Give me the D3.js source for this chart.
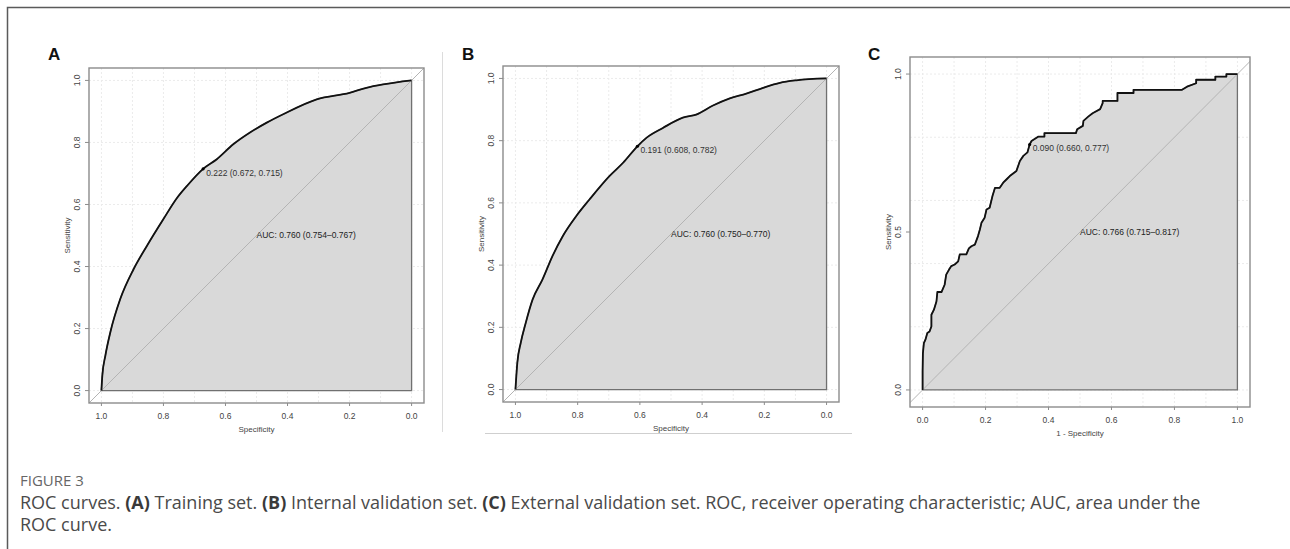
<!DOCTYPE html>
<html>
<head>
<meta charset="utf-8">
<script src="https://cdn.jsdelivr.net/npm/d3@7/dist/d3.min.js"></script>
<style>
  body { margin: 0; background: #fff; }
  svg { display: block; }
</style>
</head>
<body>
<div id="chart"></div>
<script>
// panel A - training set (specificity, sensitivity)
var specA = [1.0, 0.997, 0.987, 0.971, 0.939, 0.896, 0.853, 0.8, 0.757, 0.724, 0.672, 0.628, 0.575, 0.521, 0.467, 0.414, 0.306, 0.2, 0.146, 0.092, 0.0];
var sensA = [0.0, 0.049, 0.114, 0.189, 0.296, 0.392, 0.467, 0.553, 0.62, 0.66, 0.715, 0.746, 0.794, 0.832, 0.864, 0.891, 0.939, 0.96, 0.976, 0.987, 1.0];

// panel B - internal validation set
var specB = [1.0, 0.994, 0.983, 0.967, 0.945, 0.913, 0.881, 0.848, 0.805, 0.762, 0.698, 0.654, 0.608, 0.579, 0.526, 0.462, 0.419, 0.365, 0.311, 0.258, 0.204, 0.15, 0.097, 0.0];
var sensB = [0.0, 0.086, 0.15, 0.214, 0.289, 0.354, 0.429, 0.493, 0.557, 0.611, 0.686, 0.729, 0.782, 0.809, 0.841, 0.874, 0.884, 0.913, 0.936, 0.951, 0.97, 0.986, 0.994, 1.0];

// panel C - external validation set (1 - specificity, sensitivity), step curve
var fprC = [0, 0, 0.001, 0.004, 0.009, 0.015, 0.022, 0.028, 0.028, 0.036, 0.044, 0.047, 0.060, 0.070, 0.075, 0.084, 0.091, 0.102, 0.113, 0.118, 0.139, 0.147, 0.155, 0.166, 0.176, 0.182, 0.187, 0.197, 0.203, 0.213, 0.222, 0.230, 0.245, 0.256, 0.267, 0.277, 0.298, 0.309, 0.320, 0.333, 0.340, 0.346, 0.368, 0.387, 0.387, 0.487, 0.491, 0.509, 0.511, 0.527, 0.540, 0.564, 0.572, 0.572, 0.619, 0.619, 0.670, 0.670, 0.824, 0.840, 0.869, 0.869, 0.930, 0.930, 0.965, 0.965, 1.0];
var tprC = [0, 0.06, 0.116, 0.148, 0.159, 0.18, 0.185, 0.201, 0.238, 0.254, 0.28, 0.31, 0.31, 0.333, 0.365, 0.381, 0.392, 0.397, 0.407, 0.429, 0.429, 0.448, 0.455, 0.46, 0.487, 0.508, 0.529, 0.545, 0.571, 0.577, 0.614, 0.640, 0.640, 0.656, 0.667, 0.677, 0.693, 0.725, 0.741, 0.752, 0.777, 0.788, 0.802, 0.802, 0.813, 0.813, 0.825, 0.836, 0.852, 0.866, 0.876, 0.889, 0.908, 0.915, 0.915, 0.940, 0.940, 0.950, 0.950, 0.960, 0.971, 0.982, 0.982, 0.992, 0.992, 1.0, 1.0];

var panelLetters = ["A", "B", "C"];
var xTitles = ["Specificity", "Specificity", "1 - Specificity"];
var thresholdText = ["0.222 (0.672, 0.715)", "0.191 (0.608, 0.782)", "0.090 (0.660, 0.777)"];
var thresholdX = [0.672, 0.608, 0.340];
var thresholdY = [0.715, 0.782, 0.777];
var aucText = ["AUC: 0.760 (0.754\u20130.767)", "AUC: 0.760 (0.750\u20130.770)", "AUC: 0.766 (0.715\u20130.817)"];
var yTicksAB = [0, 0.2, 0.4, 0.6, 0.8, 1.0];
var yTicksC = [0, 0.5, 1.0];
var xTicks = [0, 0.2, 0.4, 0.6, 0.8, 1.0];

var width = 1290, height = 549;
var font = "'Liberation Sans', Arial, sans-serif";

var svg = d3.select('#chart').append('svg')
    .attr('width', width)
    .attr('height', height);

svg.append('rect').attr('width', width).attr('height', height).attr('fill', '#fff');

// outer frame (top + left)
svg.append('path')
    .attr('d', 'M7.5,' + height + 'V7.5H' + width)
    .attr('fill', 'none')
    .attr('stroke', '#5a5a5a')
    .attr('stroke-width', 1.5);

// faint border of panel B image
svg.append('line').attr('x1', 442.5).attr('x2', 442.5).attr('y1', 52).attr('y2', 432)
    .attr('stroke', '#dcdcdc').attr('stroke-width', 1);
svg.append('line').attr('x1', 485).attr('x2', 852).attr('y1', 433.5).attr('y2', 433.5)
    .attr('stroke', '#cfcfcf').attr('stroke-width', 1);

var panels = [
    { box: { x0: 89, x1: 424, y0: 68, y1: 403 }, xDom: [1.04, -0.04], yDom: [-0.04, 1.04],
      xs: specA, ys: sensA, yTicks: yTicksAB, step: false, letterX: 48 },
    { box: { x0: 503, x1: 839, y0: 66, y1: 402 }, xDom: [1.04, -0.04], yDom: [-0.04, 1.04],
      xs: specB, ys: sensB, yTicks: yTicksAB, step: false, letterX: 462 },
    { box: { x0: 910, x1: 1250, y0: 57, y1: 407 }, xDom: [-0.04, 1.04], yDom: [-0.054, 1.054],
      xs: fprC, ys: tprC, yTicks: yTicksC, step: true, letterX: 868 }
];

panels.forEach(function (p, i) {
    var b = p.box;
    var x = d3.scaleLinear().domain(p.xDom).range([b.x0, b.x1]);
    var y = d3.scaleLinear().domain(p.yDom).range([b.y1, b.y0]);
    var g = svg.append('g');

    g.append('clipPath').attr('id', 'clip' + i)
        .append('rect').attr('x', b.x0).attr('y', b.y0)
        .attr('width', b.x1 - b.x0).attr('height', b.y1 - b.y0);

    // grid
    var grid = g.append('g').attr('clip-path', 'url(#clip' + i + ')');
    d3.range(0, 11).forEach(function (k) {
        grid.append('line')
            .attr('x1', x(k / 10)).attr('x2', x(k / 10))
            .attr('y1', b.y0).attr('y2', b.y1)
            .attr('stroke', '#ebebeb').attr('stroke-dasharray', '2,2');
    });
    d3.range(0, 6).forEach(function (k) {
        grid.append('line')
            .attr('x1', b.x0).attr('x2', b.x1)
            .attr('y1', y(k / 5)).attr('y2', y(k / 5))
            .attr('stroke', '#ebebeb').attr('stroke-dasharray', '2,2');
    });

    var pts = p.xs.map(function (v, j) { return [v, p.ys[j]]; });

    // AUC polygon
    var area = d3.area()
        .x(function (d) { return x(d[0]); })
        .y0(y(0))
        .y1(function (d) { return y(d[1]); })
        .curve(p.step ? d3.curveLinear : d3.curveMonotoneX);
    g.append('path')
        .datum(pts)
        .attr('d', area)
        .attr('fill', '#d9d9d9')
        .attr('stroke', '#707070')
        .attr('stroke-width', 1.3);

    // chance diagonal, clipped to the box
    var diag = p.step ? [[-0.1, -0.1], [1.1, 1.1]] : [[1.1, -0.1], [-0.1, 1.1]];
    g.append('line')
        .attr('clip-path', 'url(#clip' + i + ')')
        .attr('x1', x(diag[0][0])).attr('y1', y(diag[0][1]))
        .attr('x2', x(diag[1][0])).attr('y2', y(diag[1][1]))
        .attr('stroke', '#b4b4b4').attr('stroke-width', 1);

    // ROC curve
    var line = d3.line()
        .x(function (d) { return x(d[0]); })
        .y(function (d) { return y(d[1]); })
        .curve(p.step ? d3.curveLinear : d3.curveMonotoneX);
    g.append('path')
        .datum(pts)
        .attr('d', line)
        .attr('fill', 'none')
        .attr('stroke', '#111')
        .attr('stroke-width', 1.8)
        .attr('stroke-linejoin', 'round');

    // plot box
    g.append('rect')
        .attr('x', b.x0).attr('y', b.y0)
        .attr('width', b.x1 - b.x0).attr('height', b.y1 - b.y0)
        .attr('fill', 'none').attr('stroke', '#8c8c8c').attr('stroke-width', 1.4);

    // y axis
    p.yTicks.forEach(function (v) {
        g.append('line').attr('x1', b.x0 - 4).attr('x2', b.x0)
            .attr('y1', y(v)).attr('y2', y(v)).attr('stroke', '#8c8c8c');
        g.append('text')
            .attr('transform', 'translate(' + (b.x0 - 12) + ',' + y(v) + ') rotate(-90)')
            .attr('text-anchor', 'middle').attr('dy', '0.35em')
            .attr('font-family', font).attr('font-size', 8.5).attr('fill', '#444')
            .text(d3.format('.1f')(v));
    });
    g.append('text')
        .attr('transform', 'translate(' + (b.x0 - 22) + ',' + ((b.y0 + b.y1) / 2) + ') rotate(-90)')
        .attr('text-anchor', 'middle').attr('dy', '0.35em')
        .attr('font-family', font).attr('font-size', 8).attr('fill', '#444')
        .text('Sensitivity');

    // x axis
    xTicks.forEach(function (v) {
        g.append('line').attr('x1', x(v)).attr('x2', x(v))
            .attr('y1', b.y1).attr('y2', b.y1 + 3).attr('stroke', '#8c8c8c');
        g.append('text')
            .attr('x', x(v)).attr('y', b.y1 + 13).attr('dy', '0.35em')
            .attr('text-anchor', 'middle')
            .attr('font-family', font).attr('font-size', 8.5).attr('fill', '#444')
            .text(d3.format('.1f')(v));
    });
    g.append('text')
        .attr('x', (b.x0 + b.x1) / 2).attr('y', b.y1 + 26).attr('dy', '0.35em')
        .attr('text-anchor', 'middle')
        .attr('font-family', font).attr('font-size', 8).attr('fill', '#444')
        .text(xTitles[i]);

    // threshold point + label
    g.append('circle')
        .attr('cx', x(thresholdX[i])).attr('cy', y(thresholdY[i])).attr('r', 1.6)
        .attr('fill', '#000');
    g.append('text')
        .attr('x', x(thresholdX[i]) + 3).attr('y', y(thresholdY[i]) + 4).attr('dy', '0.35em')
        .attr('font-family', font).attr('font-size', 8.5).attr('fill', '#333')
        .text(thresholdText[i]);

    // AUC label
    g.append('text')
        .attr('x', x(0.5)).attr('y', y(0.5)).attr('dy', '0.35em')
        .attr('font-family', font).attr('font-size', 8.5).attr('fill', '#222')
        .text(aucText[i]);

    // panel letter
    svg.append('text')
        .attr('x', p.letterX).attr('y', 60)
        .attr('font-family', font).attr('font-weight', 'bold').attr('font-size', 17)
        .attr('fill', '#111')
        .text(panelLetters[i]);
});

// caption
var capFont = "'Open Sans', 'Noto Sans', sans-serif";
svg.append('text')
    .attr('x', 20).attr('y', 486)
    .attr('font-family', capFont).attr('font-size', 15).attr('fill', '#666')
    .text('FIGURE 3');

var capLines = [
    [['ROC curves. ', false], ['(A)', true], [' Training set. ', false], ['(B)', true],
     [' Internal validation set. ', false], ['(C)', true],
     [' External validation set. ROC, receiver operating characteristic; AUC, area under the', false]],
    [['ROC curve.', false]]
];
capLines.forEach(function (parts, li) {
    var t = svg.append('text')
        .attr('x', 20).attr('y', 509 + li * 22)
        .attr('font-family', capFont).attr('font-size', 18).attr('fill', '#4a4a4a');
    parts.forEach(function (pt) {
        t.append('tspan')
            .attr('font-weight', pt[1] ? 'bold' : null)
            .attr('fill', pt[1] ? '#3a3a3a' : null)
            .text(pt[0]);
    });
});
</script>
</body>
</html>
